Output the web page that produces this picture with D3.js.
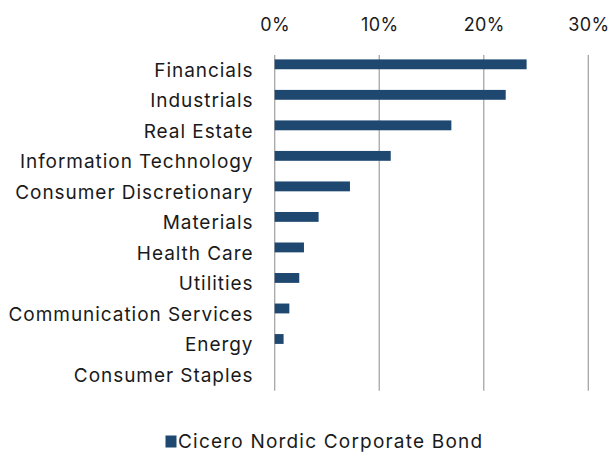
<!DOCTYPE html>
<html>
<head>
<meta charset="utf-8">
<script src="https://cdn.jsdelivr.net/npm/d3@7"></script>
<style>
  html, body { margin: 0; padding: 0; background: #fff; }
  svg { display: block; font-family: Inter, "DejaVu Sans", sans-serif; }
</style>
</head>
<body>
<svg id="chart" width="613" height="453"></svg>
<script>
const categories = ["Financials", "Industrials", "Real Estate", "Information Technology",
  "Consumer Discretionary", "Materials", "Health Care", "Utilities",
  "Communication Services", "Energy", "Consumer Staples"];
const seriesName = "Cicero Nordic Corporate Bond";
const values = [24.1, 22.1, 16.9, 11.1, 7.2, 4.2, 2.8, 2.35, 1.4, 0.85, 0];
const xTicks = [0, 10, 20, 30];

const svg = d3.select("#chart");
const margin = { top: 55, left: 274.7, right: 24.7, bottom: 62.3 };
const W = 613, H = 453;
const color = "#1f4870";
const textColor = "#1a1a1a";

const x = d3.scaleLinear().domain([0, 30]).range([margin.left, W - margin.right]);
const y = d3.scaleBand().domain(categories).range([margin.top, H - margin.bottom]).padding(0);
const slot = d3.scaleBand().domain([seriesName, "_empty"]).range([0, y.bandwidth()])
  .paddingInner(0.17).paddingOuter(0.37);

// gridlines
svg.append("g").selectAll("line").data(xTicks).join("line")
  .attr("x1", d => x(d)).attr("x2", d => x(d))
  .attr("y1", margin.top).attr("y2", H - margin.bottom)
  .attr("stroke", "#a6a6a6").attr("stroke-width", 1.3);

// top axis labels
const xAxis = d3.axisTop(x).tickValues(xTicks).tickFormat(d => d + "%").tickSize(0).tickPadding(0);
const gx = svg.append("g").attr("transform", `translate(0,${31})`).call(xAxis);
gx.select(".domain").remove();
gx.selectAll("text").attr("font-size", 18).attr("fill", textColor)
  .attr("font-family", "Inter, sans-serif").attr("letter-spacing", 0.4);

// category labels
const yAxis = d3.axisLeft(y).tickSize(0).tickPadding(0);
const gy = svg.append("g").attr("transform", `translate(${253.5},0)`).call(yAxis);
gy.select(".domain").remove();
gy.selectAll("text").attr("font-size", 19).attr("fill", textColor)
  .attr("font-family", "Inter, sans-serif").attr("letter-spacing", 0.95)
  .attr("dy", "0.34em");

// bars
svg.append("g").selectAll("rect").data(categories.map((c, i) => ({ c, v: values[i] })))
  .join("rect")
  .attr("x", x(0))
  .attr("y", d => y(d.c) + slot(seriesName))
  .attr("width", d => x(d.v) - x(0))
  .attr("height", slot.bandwidth())
  .attr("fill", color);

// legend
const lg = svg.append("g");
lg.append("rect").attr("x", 165.5).attr("y", 435.5).attr("width", 11).attr("height", 12).attr("fill", color);
lg.append("text").attr("x", 178).attr("y", 441.5).attr("dominant-baseline", "central")
  .attr("font-size", 19).attr("letter-spacing", 1.2).attr("fill", textColor).text(seriesName);
</script>
</body>
</html>
